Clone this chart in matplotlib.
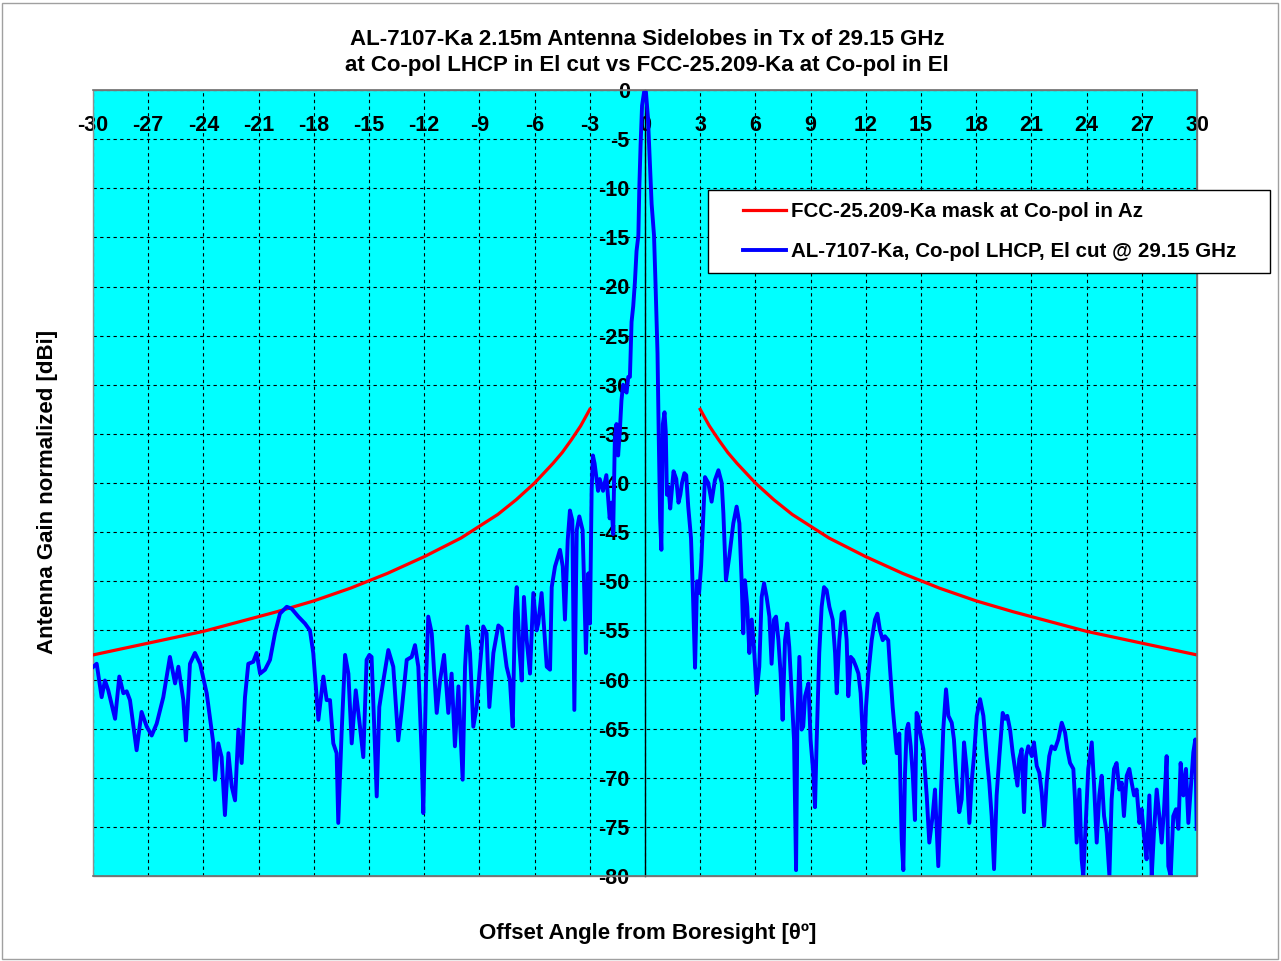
#!/usr/bin/env python3
import numpy as np
import matplotlib
matplotlib.use('Agg')
import matplotlib.pyplot as plt
from matplotlib.patches import Rectangle
from matplotlib.legend_handler import HandlerLine2D

plt.rcParams['font.family'] = ['Liberation Sans', 'DejaVu Sans']
plt.rcParams['font.weight'] = 'bold'

# FCC 25.209 mask (one side, mirrored for negative angles)
mask_deg = np.array([3, 3.5, 4, 4.5, 5, 6, 7, 8, 9, 10, 12, 14, 16, 18, 20, 22, 24, 26, 28, 30])
mask_gain = np.array([-32.5, -34.2, -35.6, -36.9, -38.0, -40.0, -41.7, -43.2, -44.4, -45.6,
                      -47.5, -49.2, -50.7, -52.0, -53.1, -54.1, -55.1, -55.9, -56.7, -57.5])

far_left_deg = [-29.98, -29.80, -29.53, -29.35, -29.17, -28.80, -28.57, -28.35, -28.17, -27.99,
                -27.63, -27.36, -27.08, -26.81, -26.54, -26.18, -25.82, -25.54, -25.36, -25.09,
                -24.95, -24.73, -24.46, -24.18, -23.82, -23.46, -23.37, -23.19, -23.01, -22.83,
                -22.64, -22.46, -22.28, -22.10, -21.92, -21.74, -21.56, -21.29, -21.11, -20.92,
                -20.65, -20.38, -20.11, -19.84, -19.47, -19.20, -18.84, -18.48, -18.21, -18.03,
                -17.75, -17.48, -17.30, -17.12, -16.94, -16.76, -16.67, -16.49, -16.30, -16.12,
                -15.94, -15.72, -15.49, -15.31, -15.13, -14.98]
far_left_gain = [-58.7, -58.4, -61.8, -60.1, -61.1, -64.0, -59.7, -61.4, -61.2, -62.1,
                 -67.2, -63.3, -64.8, -65.7, -64.5, -61.8, -57.7, -60.4, -58.7, -62.1,
                 -66.2, -58.4, -57.3, -58.4, -61.4, -66.5, -70.2, -66.5, -67.9, -73.8,
                 -67.5, -70.9, -72.3, -65.1, -68.5, -61.8, -58.4, -58.2, -57.3, -59.4,
                 -59.0, -58.0, -55.3, -53.3, -52.6, -52.8, -53.6, -54.3, -55.0, -57.3,
                 -64.1, -59.7, -62.1, -62.1, -66.5, -67.5, -74.6, -65.5, -57.5, -59.4,
                 -66.5, -61.1, -64.8, -67.9, -58.0, -57.5]

near_left_deg = [-14.86, -14.73, -14.58, -14.44, -14.22, -13.95, -13.68, -13.41, -13.22, -12.95,
                 -12.68, -12.50, -12.32, -12.14, -12.05, -11.90, -11.78, -11.59, -11.32, -11.14,
                 -10.92, -10.69, -10.51, -10.33, -10.14, -9.91, -9.78, -9.66, -9.51, -9.33,
                 -9.15, -8.97, -8.79, -8.61, -8.46, -8.24, -7.97, -7.79, -7.52, -7.34,
                 -7.19, -7.07, -6.97, -6.83, -6.70, -6.58, -6.43, -6.25, -6.07, -5.89,
                 -5.80, -5.62, -5.49, -5.34, -5.16, -5.07, -4.89, -4.62, -4.47, -4.35,
                 -4.20, -4.08, -3.95, -3.84, -3.71, -3.57, -3.39, -3.21, -3.08, -2.99, -2.90]
near_left_gain = [-57.7, -64.1, -71.9, -62.8, -60.1, -57.0, -58.7, -66.2, -63.1, -58.0,
                  -57.7, -56.5, -58.7, -67.5, -73.6, -60.1, -53.6, -55.3, -63.4, -60.1,
                  -57.5, -63.4, -59.4, -66.8, -60.7, -70.2, -58.7, -54.6, -57.3, -64.8,
                  -62.8, -58.7, -54.6, -55.3, -62.8, -57.3, -54.5, -54.8, -58.7, -60.1,
                  -64.8, -53.3, -50.6, -56.7, -60.1, -51.6, -56.0, -59.4, -51.2, -55.0,
                  -54.3, -51.2, -54.6, -58.7, -59.0, -50.6, -48.5, -46.8, -48.5, -53.9,
                  -45.8, -42.8, -43.8, -63.1, -44.8, -43.4, -44.8, -57.3, -49.2, -54.3, -40.7]

main_deg = [-2.83, -2.74, -2.55, -2.46, -2.28, -2.10, -1.92, -1.82, -1.73, -1.64,
            -1.55, -1.46, -1.37, -1.28, -1.19, -1.00, -0.91, -0.82, -0.73, -0.64,
            -0.55, -0.46, -0.36, -0.31, -0.24, -0.16, -0.05, 0.05, 0.16, 0.27,
            0.36, 0.49, 0.57, 0.68, 0.75, 0.82, 0.89, 0.97, 1.06, 1.13,
            1.19, 1.28, 1.37, 1.55, 1.70, 1.82, 1.92, 2.01, 2.14, 2.24,
            2.35, 2.50, 2.61, 2.72, 2.83, 2.94, 3.05, 3.16]
main_gain = [-37.2, -38.0, -40.8, -39.6, -40.8, -39.2, -43.6, -42.0, -45.2, -35.6,
             -34.0, -37.2, -34.8, -31.6, -30.0, -30.8, -29.2, -29.2, -23.6, -22.0,
             -19.6, -16.4, -14.8, -10.0, -5.6, -1.6, -0.2, -0.2, -2.8, -7.6,
             -11.6, -14.8, -19.6, -26.8, -35.6, -43.6, -46.8, -34.0, -32.8, -34.8,
             -41.2, -40.4, -42.6, -38.8, -39.6, -42.0, -41.2, -40.0, -39.0, -39.2,
             -42.4, -45.6, -51.6, -58.8, -50.0, -51.2, -48.4, -43.6]

near_right_deg = [3.26, 3.44, 3.62, 3.80, 3.99, 4.17, 4.26, 4.40, 4.58, 4.80,
                  4.98, 5.13, 5.25, 5.34, 5.43, 5.56, 5.67, 5.80, 5.92, 6.07,
                  6.21, 6.34, 6.47, 6.61, 6.76, 6.88, 7.01, 7.12, 7.25, 7.37,
                  7.48, 7.61, 7.73, 7.84, 7.97, 8.10, 8.21, 8.28, 8.39, 8.51,
                  8.60, 8.70, 8.88, 9.00, 9.15, 9.24, 9.33, 9.47, 9.60, 9.73,
                  9.87, 10.02, 10.20, 10.33, 10.42, 10.56, 10.69, 10.82, 10.96, 11.05,
                  11.18, 11.32, 11.47, 11.60, 11.72, 11.83, 11.90, 12.01, 12.14, 12.32,
                  12.50, 12.63, 12.77, 12.92, 13.04, 13.22, 13.31, 13.46, 13.59, 13.68,
                  13.82, 13.95, 14.04, 14.13, 14.22, 14.31, 14.44, 14.55, 14.67, 14.76, 14.85]
near_right_gain = [-39.4, -40.0, -41.9, -39.7, -38.7, -40.0, -43.1, -49.9, -47.5, -44.1,
                   -42.4, -44.1, -49.9, -55.3, -49.9, -52.6, -57.3, -53.9, -56.7, -61.4,
                   -58.7, -51.6, -50.2, -51.6, -53.6, -58.4, -53.9, -53.6, -56.0, -59.4,
                   -64.1, -56.0, -54.3, -56.7, -61.4, -66.2, -79.4, -64.5, -57.7, -65.1,
                   -64.8, -61.7, -60.4, -66.2, -69.6, -73.0, -66.2, -57.3, -52.6, -50.6,
                   -50.9, -52.6, -53.9, -57.3, -61.4, -56.0, -53.3, -53.1, -56.0, -61.7,
                   -57.7, -58.0, -58.7, -59.4, -61.4, -65.5, -68.5, -62.8, -59.4, -56.0,
                   -53.9, -53.3, -55.0, -56.0, -55.6, -56.0, -58.7, -62.8, -65.5, -67.5,
                   -65.5, -76.3, -79.4, -69.6, -65.1, -64.5, -66.8, -69.6, -74.3, -63.4, -63.8]

far_right_deg = [14.95, 15.13, 15.31, 15.45, 15.63, 15.76, 15.85, 15.94, 16.07, 16.21,
                 16.36, 16.49, 16.67, 16.79, 16.94, 17.08, 17.21, 17.34, 17.48, 17.63,
                 17.75, 17.88, 18.03, 18.21, 18.39, 18.57, 18.71, 18.84, 18.97, 19.11,
                 19.26, 19.44, 19.57, 19.69, 19.84, 19.98, 20.11, 20.24, 20.34, 20.47,
                 20.60, 20.71, 20.83, 21.02, 21.14, 21.29, 21.43, 21.56, 21.69, 21.83,
                 21.97, 22.10, 22.28, 22.46, 22.65, 22.83, 22.95, 23.10, 23.28, 23.37,
                 23.46, 23.61, 23.73, 23.82, 23.97, 24.09, 24.28, 24.40, 24.55, 24.69,
                 24.82, 24.95, 25.09, 25.24, 25.36, 25.49, 25.63, 25.78, 25.91, 26.03,
                 26.18, 26.32, 26.45, 26.58, 26.72, 26.87, 26.99, 27.12, 27.26, 27.41,
                 27.54, 27.66, 27.81, 27.95, 28.08, 28.21, 28.35, 28.44, 28.57, 28.71,
                 28.86, 28.99, 29.11, 29.26, 29.40, 29.53, 29.66, 29.80, 29.91, 29.98]
far_right_gain = [-65.4, -67.1, -71.8, -76.6, -73.9, -71.2, -75.2, -79.0, -72.2, -65.1,
                  -61.0, -63.7, -64.4, -66.1, -70.5, -73.5, -72.2, -66.4, -69.1, -74.6,
                  -70.5, -67.8, -63.7, -62.0, -63.7, -67.8, -70.5, -73.9, -79.3, -71.8,
                  -67.8, -63.4, -64.0, -63.7, -65.1, -67.4, -69.1, -70.8, -68.1, -67.1,
                  -73.5, -67.8, -66.8, -67.8, -66.4, -68.8, -69.5, -71.5, -74.9, -70.5,
                  -67.8, -66.8, -67.1, -66.1, -64.4, -65.4, -67.1, -68.5, -69.1, -72.2,
                  -76.6, -71.2, -78.3, -80.0, -73.9, -69.1, -66.4, -70.5, -76.6, -71.8,
                  -69.8, -73.9, -75.6, -80.0, -72.2, -69.1, -68.5, -71.2, -70.5, -73.9,
                  -69.8, -69.1, -70.5, -71.8, -71.2, -74.6, -73.2, -75.9, -78.3, -71.8,
                  -80.0, -75.6, -71.2, -73.9, -76.6, -73.2, -67.8, -79.0, -80.0, -73.9,
                  -73.2, -75.2, -68.5, -71.8, -69.1, -74.6, -71.2, -67.4, -66.1, -75.2]

x_ticks = np.arange(-30, 31, 3)
y_ticks = np.arange(-80, 1, 5)

title = ('AL-7107-Ka 2.15m Antenna Sidelobes in Tx of 29.15 GHz\n'
         'at Co-pol LHCP in El cut vs FCC-25.209-Ka at Co-pol in El')
mask_label = 'FCC-25.209-Ka mask at Co-pol in Az'
ant_label = 'AL-7107-Ka, Co-pol LHCP, El cut @ 29.15 GHz'

W, H = 1281, 961


def main():
    ant_deg = np.concatenate([far_left_deg, near_left_deg, main_deg, near_right_deg, far_right_deg])
    ant_gain = np.concatenate([far_left_gain, near_left_gain, main_gain, near_right_gain, far_right_gain])

    fig = plt.figure(figsize=(W / 100, H / 100), dpi=100)
    ax = fig.add_axes([93 / W, 1 - 876 / H, (1197 - 93) / W, (876 - 90) / H])
    ax.set_facecolor('#00FFFF')

    ax.plot(mask_deg, mask_gain, color='#FF0000', lw=2.3, label=mask_label)
    ax.plot(-mask_deg, mask_gain, color='#FF0000', lw=2.3)
    ax.plot(ant_deg, ant_gain, color='#0000FF', lw=2.8, label=ant_label)

    ax.set_xlim(-30, 30)
    ax.set_ylim(-80, 0)
    ax.set_xticks(x_ticks)
    ax.set_yticks(y_ticks)
    ax.set_xticklabels([str(v) for v in x_ticks])
    ax.set_yticklabels([str(v) for v in y_ticks])
    ax.grid(True, color='black', linestyle=(0, (3, 3)), linewidth=0.8)
    ax.set_axisbelow(True)

    ax.spines['left'].set_position(('data', 0))
    ax.spines['left'].set_color('black')
    ax.spines['left'].set_linewidth(1.0)
    ax.spines['left'].set_zorder(1.5)
    for side in ['top', 'right', 'bottom']:
        ax.spines[side].set_color('#707070')
        ax.spines[side].set_linewidth(1.2)
    ax.add_patch(Rectangle((0, 0), 1, 1, transform=ax.transAxes, fill=False,
                           edgecolor='#909090', lw=1, clip_on=False))

    ax.tick_params(axis='x', bottom=False, labelbottom=False, top=False, labeltop=True,
                   length=0, pad=-33, labelsize=15.5)
    ax.tick_params(axis='y', left=False, length=0, pad=11, labelsize=15.5)

    # legend sticks out past the right edge of the plot, like the original
    leg = ax.legend(loc='upper left',
                    bbox_to_anchor=(708 / W, 1 - 270 / H, 562 / W, 80 / H),
                    bbox_transform=fig.transFigure, mode='expand',
                    fancybox=False, edgecolor='black', framealpha=1, fontsize=14.8,
                    handlelength=3.2, handletextpad=0.25, labelspacing=1.0,
                    borderpad=0.6, borderaxespad=0,
                    handler_map={matplotlib.lines.Line2D: HandlerLine2D(xpad=1.1)})
    leg.get_frame().set_linewidth(1.0)

    fig.text(647 / W, 1 - 52.5 / H, title, ha='center', va='center',
             fontsize=16, fontweight='bold', linespacing=1.35)
    fig.text(48 / W, 1 - 492 / H, 'Antenna Gain normalized [dBi]', rotation=90,
             ha='center', va='center', fontsize=16, fontweight='bold')
    fig.text(648 / W, 1 - 933 / H, 'Offset Angle from Boresight [θº]',
             ha='center', va='center', fontsize=16, fontweight='bold')

    fig.patches.append(Rectangle((2 / W, 2 / H), 1 - 5 / W, 1 - 5 / H,
                                 transform=fig.transFigure, fill=False,
                                 edgecolor='#A0A0A0', lw=1))

    fig.savefig('out.png', dpi=100)


if __name__ == '__main__':
    main()
